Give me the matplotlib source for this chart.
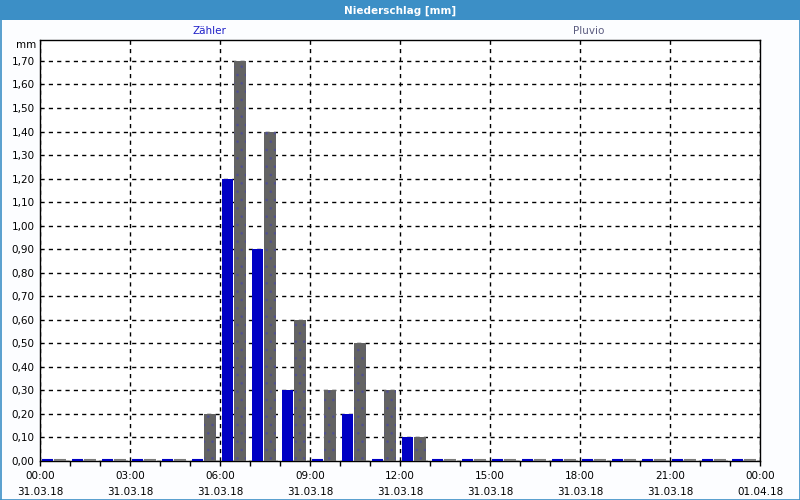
import matplotlib
matplotlib.use("Agg")
import matplotlib.pyplot as plt
import numpy as np
from matplotlib.lines import Line2D
from matplotlib.ticker import FuncFormatter, MultipleLocator

# ---- data ----
hours = list(range(24))  # hourly slots starting 31.03.18 00:00
zaehler = [0.0, 0.0, 0.0, 0.0, 0.0, 0.0, 1.20, 0.90, 0.30, 0.0, 0.20, 0.0,
           0.10, 0.0, 0.0, 0.0, 0.0, 0.0, 0.0, 0.0, 0.0, 0.0, 0.0, 0.0]
pluvio = [0.0, 0.0, 0.0, 0.0, 0.0, 0.20, 1.70, 1.40, 0.60, 0.30, 0.50, 0.30,
          0.10, 0.0, 0.0, 0.0, 0.0, 0.0, 0.0, 0.0, 0.0, 0.0, 0.0, 0.0]
tick_hours = [0, 3, 6, 9, 12, 15, 18, 21, 24]
tick_labels = ["00:00\n31.03.18", "03:00\n31.03.18", "06:00\n31.03.18",
               "09:00\n31.03.18", "12:00\n31.03.18", "15:00\n31.03.18",
               "18:00\n31.03.18", "21:00\n31.03.18", "00:00\n01.04.18"]
title = "Niederschlag [mm]"
series_names = ["Zähler", "Pluvio"]

BLUE = "#0000c4"
GRAY = "#636363"
HEAD = "#3c8fc6"

plt.rcParams['font.family'] = ['DejaVu Sans']
plt.rcParams['hatch.linewidth'] = 0.6

fig = plt.figure(figsize=(8, 5), dpi=100)
fig.patch.set_facecolor("#fcfdff")

# header bar
fig.patches.append(plt.Rectangle((0, 1 - 20 / 500), 1, 20 / 500, transform=fig.transFigure,
                                 facecolor=HEAD, edgecolor="none", zorder=0))
# outer border (left, bottom, right)
for xs, ys in [([0.5 / 800, 0.5 / 800], [0, 1]),
               ([0, 1], [0.5 / 500, 0.5 / 500]),
               ([799.5 / 800, 799.5 / 800], [0, 1])]:
    fig.add_artist(Line2D(xs, ys, transform=fig.transFigure, color=HEAD, linewidth=1.2))
fig.text(0.5, 1 - 10.5 / 500, title, color="white", fontsize=7.5, fontweight="bold",
         ha="center", va="center")

ax = fig.add_axes([40 / 800, 1 - 461 / 500, 720 / 800, 421 / 500])
ax.set_facecolor("white")

x = np.array(hours, dtype=float)
zv = np.array(zaehler)
pv = np.array(pluvio)
BW = 0.385
ZOFF = 0.05
POFF = 0.47
ax.bar(x + ZOFF, zv, width=BW, align="edge", color=BLUE, linewidth=0, zorder=3)
ax.bar(x + POFF, pv, width=BW, align="edge", color=GRAY, linewidth=0, zorder=3)
ax.bar(x + POFF, pv, width=BW, align="edge", color="none",
       edgecolor="#505090", linewidth=0, hatch="..", zorder=3)
# zero-value bars shown as thin lines on the baseline
zz = zv == 0
pz = pv == 0
ax.hlines(np.zeros(zz.sum()) + 0.004, x[zz] + ZOFF, x[zz] + ZOFF + BW, color=BLUE,
          linewidth=1.5, zorder=3)
ax.hlines(np.zeros(pz.sum()) + 0.004, x[pz] + POFF, x[pz] + POFF + BW, color="#7a7a7a",
          linewidth=1.5, zorder=3)

ax.set_xlim(0, 24)
ax.set_ylim(0, 1.789)

ax.set_xticks(tick_hours)
ax.set_xticklabels(tick_labels, fontsize=7.5, linespacing=1.65)
ax.xaxis.set_minor_locator(MultipleLocator(1))
ax.tick_params(axis="x", which="both", direction="out", length=3.5, width=1,
               color="black", pad=4)

ax.yaxis.set_major_locator(MultipleLocator(0.1))
ax.yaxis.set_major_formatter(FuncFormatter(lambda v, p: f"{v:.2f}".replace(".", ",")))
ax.tick_params(axis="y", which="both", length=0, labelsize=7.5, pad=4)

ax.grid(True, which="major", color="black", linestyle=(0, (3, 3)), linewidth=1)
ax.set_axisbelow(True)

for s in ax.spines.values():
    s.set_color("black")
    s.set_linewidth(1)

ax.text(-4 / 720, 1.0 - 5 / 421, "mm", transform=ax.transAxes, ha="right", va="center",
        fontsize=7.5)
ax.text(0.235, 1 + 9 / 421, series_names[0], transform=ax.transAxes, ha="center",
        va="center", fontsize=7.5, color="#2020c8")
ax.text(0.7625, 1 + 9 / 421, series_names[1], transform=ax.transAxes, ha="center",
        va="center", fontsize=7.5, color="#5c5c80")

fig.savefig("out.png", dpi=100, facecolor=fig.get_facecolor())
